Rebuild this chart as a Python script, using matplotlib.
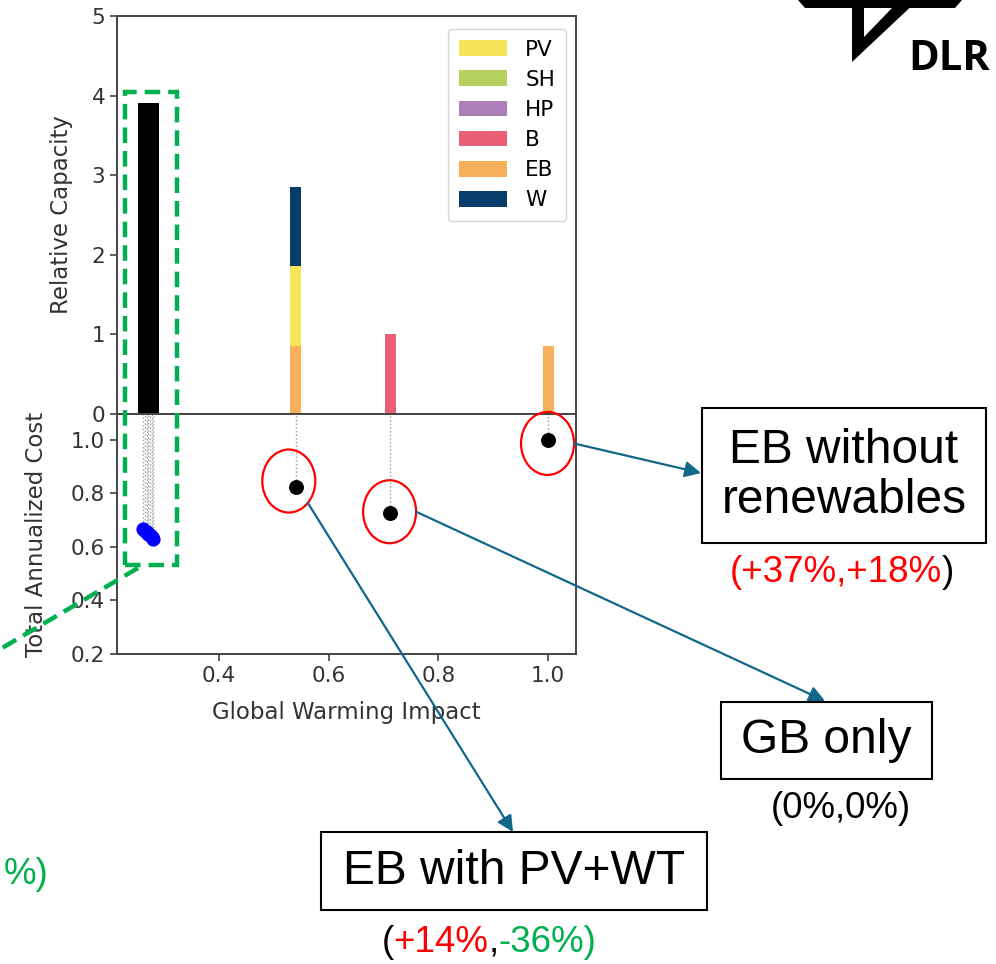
import numpy as np
import matplotlib
matplotlib.use("Agg")
import matplotlib.pyplot as plt
from matplotlib.patches import Patch, Ellipse, Rectangle, Polygon, FancyArrowPatch
from matplotlib.lines import Line2D
from matplotlib.offsetbox import TextArea, HPacker, AnnotationBbox

# ---- data ----
# single-technology / reference designs
design_names = ["EB with PV+WT", "GB only", "EB without renewables"]
design_gwi = [0.540, 0.712, 1.000]
design_cost = [0.824, 0.728, 1.000]

# relative capacity per technology for those designs
techs = ["PV", "SH", "HP", "B", "EB", "W"]
cap_PV = [1.00, 0.00, 0.00]
cap_SH = [0.00, 0.00, 0.00]
cap_HP = [0.00, 0.00, 0.00]
cap_B = [0.00, 1.005, 0.00]
cap_EB = [0.855, 0.00, 0.855]
cap_W = [1.00, 0.00, 0.00]

# pareto cluster (blue points, black bars)
pareto_gwi = [0.262, 0.265, 0.268, 0.271, 0.274, 0.277, 0.280]
pareto_cost = [0.667, 0.661, 0.655, 0.649, 0.643, 0.637, 0.631]
pareto_cap = [3.91, 3.91, 3.91, 3.91, 3.91, 3.91, 3.91]

# labels beside the chart
box_texts = ["EB with PV+WT", "GB only", "EB without\nrenewables"]
change_texts = [
    [("(", "black"), ("+14%", "red"), (",", "black"), ("-36%)", "green")],
    [("(0%,0%)", "black")],
    [("(+37%,+18%", "red"), (")", "black")],
]

# ---- styles / layout ----
W, H = 996, 964
colors = {"PV": "#f8e65a", "SH": "#b6d05f", "HP": "#ae80bb",
          "B": "#e95f76", "EB": "#f8b15a", "W": "#083d6b"}
stack_order = ["EB", "B", "HP", "SH", "PV", "W"]
caps = {"PV": cap_PV, "SH": cap_SH, "HP": cap_HP, "B": cap_B, "EB": cap_EB, "W": cap_W}
teal = "#12678a"
green = "#00b050"
red = "#ff0000"
annot_font = "Liberation Sans"
txt_col = "#333333"


def fp(x, y):
    # image pixel (top-left origin) -> figure fraction
    return (x / W, 1 - y / H)


plt.rcParams["font.family"] = ["DejaVu Sans"]
plt.rcParams["axes.edgecolor"] = "#444444"
plt.rcParams["axes.linewidth"] = 1.4
plt.rcParams["xtick.color"] = "#444444"
plt.rcParams["ytick.color"] = "#444444"
plt.rcParams["xtick.labelcolor"] = txt_col
plt.rcParams["ytick.labelcolor"] = txt_col

fig = plt.figure(figsize=(9.96, 9.64), dpi=100)
ax_top = fig.add_axes([117 / W, 1 - 414 / H, 459 / W, 398 / H])
ax_bot = fig.add_axes([117 / W, 1 - 654 / H, 459 / W, 240 / H], sharex=ax_top)

# capacity bars
bottom = np.zeros(len(design_gwi))
for t in stack_order:
    vals = np.array(caps[t])
    ax_top.bar(design_gwi, vals, width=0.02, bottom=bottom, color=colors[t])
    bottom += vals
ax_top.bar(pareto_gwi, pareto_cap, width=0.02, color="black")

ax_top.set_xlim(0.214, 1.051)
ax_top.set_ylim(0, 5)
ax_top.set_yticks(range(0, 6))
ax_top.tick_params(axis="x", bottom=False, labelbottom=False)
ax_top.tick_params(axis="y", labelsize=15.5, width=1.2, length=5)
ax_top.set_ylabel("Relative Capacity", fontsize=16.5, color=txt_col)
ax_top.yaxis.set_label_coords(-0.096, 0.5)

handles = [Patch(facecolor=colors[t], label=t) for t in techs]
ax_top.legend(handles=handles, loc="upper right", bbox_to_anchor=fp(566, 29),
              bbox_transform=fig.transFigure, borderaxespad=0, fontsize=15.5,
              handlelength=2.25, handleheight=0.75, labelspacing=0.47,
              handletextpad=0.85, borderpad=0.5)

# cost points
ylim_bot = (0.2, 1.097)
ax_bot.vlines(pareto_gwi, pareto_cost, ylim_bot[1], colors="#9a9a9a",
              linestyles=":", lw=1.0)
ax_bot.vlines(design_gwi, design_cost, ylim_bot[1], colors="#9a9a9a",
              linestyles=":", lw=1.0)
ax_bot.scatter(pareto_gwi, pareto_cost, s=85, color="#0000ff", zorder=3)
ax_bot.scatter(design_gwi, design_cost, s=95, color="black", zorder=3)
ax_bot.set_ylim(*ylim_bot)
ax_bot.set_yticks([0.2, 0.4, 0.6, 0.8, 1.0])
ax_bot.set_xticks([0.4, 0.6, 0.8, 1.0])
ax_bot.tick_params(labelsize=15.5, width=1.2, length=5)
ax_bot.set_ylabel("Total Annualized Cost", fontsize=16.5, color=txt_col)
ax_bot.yaxis.set_label_coords(-0.150, 0.5)
ax_bot.set_xlabel("Global Warming Impact", fontsize=16.5, color=txt_col,
                  labelpad=11)

# ---- annotations ----
ell_offsets = [(-7, -6), (-0.5, -1), (-0.5, 3.5)]
arrow_angles = [-44, 0, 0]
arrow_ends = [(513, 832), (825, 701), (701, 473)]
box_rects = [(321, 832, 707, 910), (721, 702, 932, 779), (702, 408, 986, 543)]
sub_pos = [(489, 942), (841, 808), (842, 573)]
ell_w, ell_h = 53, 63

for i in range(len(design_gwi)):
    dx, dy = ax_bot.transData.transform((design_gwi[i], design_cost[i]))
    px, py = dx + ell_offsets[i][0], (H - dy) + ell_offsets[i][1]
    c = fp(px, py)
    fig.add_artist(Ellipse(c, ell_w / W, ell_h / H, transform=fig.transFigure,
                           fill=False, edgecolor=red, lw=1.6))
    a = np.deg2rad(arrow_angles[i])
    sx = px + ell_w / 2 * np.cos(a)
    sy = py - ell_h / 2 * np.sin(a)
    fig.add_artist(FancyArrowPatch(fp(sx, sy), fp(*arrow_ends[i]),
                                   transform=fig.transFigure, arrowstyle="-|>",
                                   mutation_scale=24, color=teal, lw=1.6,
                                   shrinkA=0, shrinkB=0))
    x0, y0, x1, y1 = box_rects[i]
    fig.add_artist(Rectangle(fp(x0, y1), (x1 - x0) / W, (y1 - y0) / H,
                             transform=fig.transFigure, fill=False,
                             edgecolor="black", lw=1.5))
    fig.text(*fp((x0 + x1) / 2, (y0 + y1) / 2), box_texts[i], ha="center",
             va="center", fontsize=34.5, family=annot_font, linespacing=1.15)
    parts = [TextArea(s, textprops=dict(color={"red": red, "green": green}.get(col, "black"),
                                        fontsize=26.5, family=annot_font))
             for s, col in change_texts[i]]
    pack = HPacker(children=parts, align="baseline", pad=0, sep=0)
    ab = AnnotationBbox(pack, fp(*sub_pos[i]), xycoords="figure fraction",
                        frameon=False, box_alignment=(0.5, 0.5), pad=0,
                        annotation_clip=False)
    ax_bot.add_artist(ab)

# green dashed box round the pareto cluster and the leader going left
fig.add_artist(Rectangle(fp(125, 565), 52 / W, (565 - 92) / H,
                         transform=fig.transFigure, fill=False,
                         edgecolor=green, lw=3.2, linestyle=(0, (3.5, 1.8))))
fig.add_artist(Line2D([fp(138, 568)[0], fp(-20, 661)[0]],
                      [fp(138, 568)[1], fp(-20, 661)[1]],
                      transform=fig.transFigure, color=green, lw=3.2,
                      linestyle=(0, (3.5, 1.8))))
fig.text(*fp(4, 875), "%)", ha="left", va="center", fontsize=26.5,
         family=annot_font, color=green)

# DLR logo
logo = [
    [(798, 0), (962, 0), (955, 8), (805, 8)],
    [(852, 0), (918, 0), (852, 62)],
]
for poly in logo:
    fig.add_artist(Polygon([fp(x, y) for x, y in poly], closed=True,
                           transform=fig.transFigure, color="black", lw=0))
fig.add_artist(Polygon([fp(864, 8), fp(892, 8), fp(864, 37)], closed=True,
                       transform=fig.transFigure, color="white", lw=0))
fig.text(*fp(949, 59), "DLR", ha="center", va="center", fontsize=30,
         fontweight="bold", family="Open Sans")

fig.savefig("out.png", dpi=100)
